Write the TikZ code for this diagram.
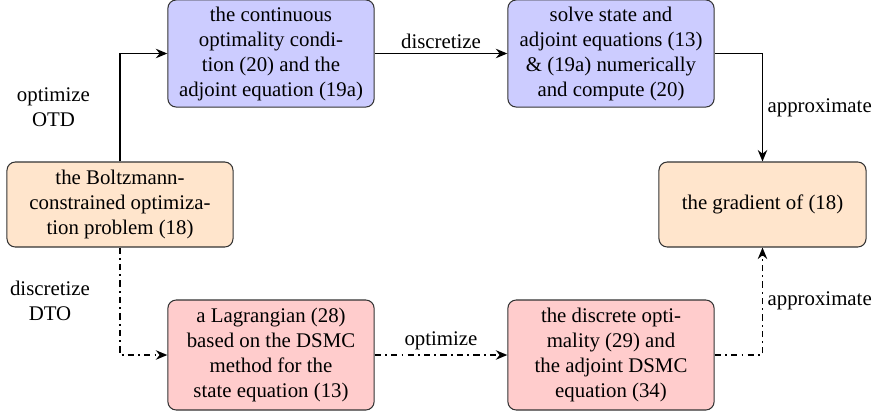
\documentclass[tikz,border=0pt]{standalone}
\usepackage{fontspec}
\setmainfont{Liberation Serif}
\usetikzlibrary{arrows.meta}
\tikzset{
  box/.style={draw=black!80, line width=0.5pt, rounded corners=4pt, align=center, minimum width=99pt, minimum height=51.4pt, inner sep=3pt},
  otdbox/.style={box, fill=blue!20},
  dtobox/.style={box, fill=red!20, minimum height=52.8pt},
  probbox/.style={box, fill=orange!20, minimum height=40.8pt},
  flow/.style={line width=0.9pt, -{Stealth[length=5.5pt,width=4.5pt]}},
  lbl/.style={align=center, inner sep=2pt}
}
\begin{document}
\begin{tikzpicture}[x=0.48pt, y=-0.48pt]
\useasboundingbox (0,0) rectangle (881,414);

\node [probbox, minimum width=108.5pt] (prob) at (120,204.5) {the Boltzmann-\\constrained optimiza-\\tion problem (18)};
\node [otdbox] (cont) at (271,53.5) {the continuous\\optimality condi-\\tion (20) and the\\adjoint equation (19a)};
\node [otdbox] (solve) at (611,53.5) {solve state and\\adjoint equations (13)\\\& (19a) numerically\\and compute (20)};
\node [probbox, minimum width=99.4pt] (grad) at (762.5,204.5) {the gradient of (18)};
\node [dtobox] (lagr) at (271,355) {a Lagrangian (28)\\based on the DSMC\\method for the\\state equation (13)};
\node [dtobox] (disc) at (611,355) {the discrete opti-\\mality (29) and\\the adjoint DSMC\\equation (34)};

\draw [flow] (prob.north) |- (cont.west) node [lbl, pos=0.25, left=12pt] {optimize\\OTD};
\draw [flow] (cont.east) -- (solve.west) node [lbl, midway, above] {discretize};
\draw [flow] (solve.east) -| (grad.north) node [lbl, pos=0.75, right] {approximate};

\draw [flow, dashdotted] (prob.south) |- (lagr.west) node [lbl, pos=0.25, left=12pt] {discretize\\DTO};
\draw [flow, dashdotted] (lagr.east) -- (disc.west) node [lbl, midway, above] {optimize};
\draw [flow, dashdotted] (disc.east) -| (grad.south) node [lbl, pos=0.75, right] {approximate};
\end{tikzpicture}
\end{document}
